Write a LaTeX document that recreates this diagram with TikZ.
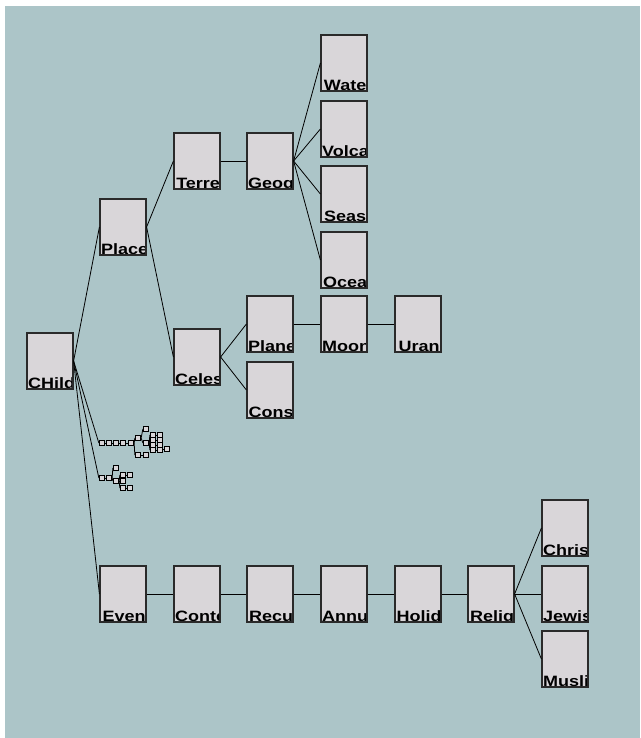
\documentclass[tikz,border=0pt]{standalone}
\usepackage{fontspec}
\newfontfamily\boxfont{Liberation Sans}[FakeStretch=1.2]
\definecolor{bgteal}{HTML}{ACC5C8}
\definecolor{boxfill}{HTML}{D9D6D9}
\definecolor{boxline}{HTML}{2A2A2A}

\begin{document}
\begin{tikzpicture}[x=1pt,y=-1pt,
	box/.style={draw=boxline,fill=boxfill,line width=1.2pt,minimum width=46,minimum height=56,inner sep=0pt,
		path picture={\node[anchor=base west,inner sep=0pt,font=\boxfont\bfseries\fontsize{15}{15}\selectfont]
			at ([xshift=0.5pt,yshift=0.8pt]path picture bounding box.south west) {#1};}},
	mini/.style={draw=black,fill=boxfill,line width=1.1pt,minimum size=5.2,inner sep=0pt},
	edge/.style={draw=black,line width=0.8pt}]
	\useasboundingbox (0,0) rectangle (640,738);
	\fill[bgteal] (5,6) rectangle (640,738);
	% main tree
	\node[box=CHild] (child) at (50,361) {};
	\node[box=Place] (place) at (123,227) {};
	\node[box=Terre] (terre) at (197,161) {};
	\node[box=Geog]  (geog)  at (270,161) {};
	\node[box=Wate]  (wate)  at (344,63) {};
	\node[box=Volca] (volca) at (344,129) {};
	\node[box=Seas]  (seas)  at (344,194) {};
	\node[box=Ocea]  (ocea)  at (344,260) {};
	\node[box=Celes] (celes) at (197,357) {};
	\node[box=Plane] (plane) at (270,324) {};
	\node[box=Moon]  (moon)  at (344,324) {};
	\node[box=Uran]  (uran)  at (418,324) {};
	\node[box=Cons]  (cons)  at (270,390) {};
	\node[box=Even]  (even)  at (123,594) {};
	\node[box=Conte] (conte) at (197,594) {};
	\node[box=Recu]  (recu)  at (270,594) {};
	\node[box=Annu]  (annu)  at (344,594) {};
	\node[box=Holid] (holid) at (418,594) {};
	\node[box=Relig] (relig) at (491,594) {};
	\node[box=Chris] (chris) at (565,528) {};
	\node[box=Jewis] (jewis) at (565,594) {};
	\node[box=Musli] (musli) at (565,659) {};
	\draw[edge] (child.east)--(place.west);
	\draw[edge] (place.east)--(terre.west);
	\draw[edge] (place.east)--(celes.west);
	\draw[edge] (terre.east)--(geog.west);
	\draw[edge] (geog.east)--(wate.west);
	\draw[edge] (geog.east)--(volca.west);
	\draw[edge] (geog.east)--(seas.west);
	\draw[edge] (geog.east)--(ocea.west);
	\draw[edge] (celes.east)--(plane.west);
	\draw[edge] (celes.east)--(cons.west);
	\draw[edge] (plane.east)--(moon.west);
	\draw[edge] (moon.east)--(uran.west);
	\draw[edge] (child.east)--(even.west);
	\draw[edge] (even.east)--(conte.west);
	\draw[edge] (conte.east)--(recu.west);
	\draw[edge] (recu.east)--(annu.west);
	\draw[edge] (annu.east)--(holid.west);
	\draw[edge] (holid.east)--(relig.west);
	\draw[edge] (relig.east)--(chris.west);
	\draw[edge] (relig.east)--(jewis.west);
	\draw[edge] (relig.east)--(musli.west);
	% first collapsed subtree
	\node[mini] (ma1) at (102,443) {};
	\node[mini] (ma2) at (109,443) {};
	\node[mini] (ma3) at (116,443) {};
	\node[mini] (ma4) at (123,443) {};
	\node[mini] (ma5) at (131,443) {};
	\node[mini] (ma6) at (138,438) {};
	\node[mini] (ma7) at (138,455) {};
	\node[mini] (ma8) at (146,455) {};
	\node[mini] (ma9) at (146,429) {};
	\node[mini] (ma10) at (146,443) {};
	\node[mini] (ma11) at (153,435) {};
	\node[mini] (ma12) at (153,440) {};
	\node[mini] (ma13) at (153,445) {};
	\node[mini] (ma14) at (153,450) {};
	\node[mini] (ma15) at (160,435) {};
	\node[mini] (ma16) at (160,440) {};
	\node[mini] (ma17) at (160,445) {};
	\node[mini] (ma18) at (160,450) {};
	\node[mini] (ma19) at (167,449) {};
	\draw[edge] (child.east)--(ma1.west);
	\draw[edge] (ma1)--(ma2)--(ma3)--(ma4)--(ma5);
	\draw[edge] (ma5.east)--(ma6.west);
	\draw[edge] (ma5.east)--(ma7.west);
	\draw[edge] (ma7)--(ma8);
	\draw[edge] (ma6.east)--(ma9.west);
	\draw[edge] (ma6.east)--(ma10.west);
	\draw[edge] (ma10.east)--(ma11.west);
	\draw[edge] (ma10.east)--(ma12.west);
	\draw[edge] (ma10.east)--(ma13.west);
	\draw[edge] (ma10.east)--(ma14.west);
	\draw[edge] (ma11)--(ma15);
	\draw[edge] (ma12)--(ma16);
	\draw[edge] (ma13)--(ma17);
	\draw[edge] (ma14)--(ma18);
	\draw[edge] (ma18)--(ma19);
	% second collapsed subtree
	\node[mini] (mb1) at (102,478) {};
	\node[mini] (mb2) at (109,478) {};
	\node[mini] (mb3) at (116,468) {};
	\node[mini] (mb4) at (116,481) {};
	\node[mini] (mb5) at (123,475) {};
	\node[mini] (mb6) at (130,475) {};
	\node[mini] (mb7) at (123,481) {};
	\node[mini] (mb8) at (123,488) {};
	\node[mini] (mb9) at (130,488) {};
	\draw[edge] (child.east)--(mb1.west);
	\draw[edge] (mb1)--(mb2);
	\draw[edge] (mb2.east)--(mb3.west);
	\draw[edge] (mb2.east)--(mb4.west);
	\draw[edge] (mb4.east)--(mb5.west);
	\draw[edge] (mb4.east)--(mb7.west);
	\draw[edge] (mb4.east)--(mb8.west);
	\draw[edge] (mb5)--(mb6);
	\draw[edge] (mb8)--(mb9);
\end{tikzpicture}
\end{document}
